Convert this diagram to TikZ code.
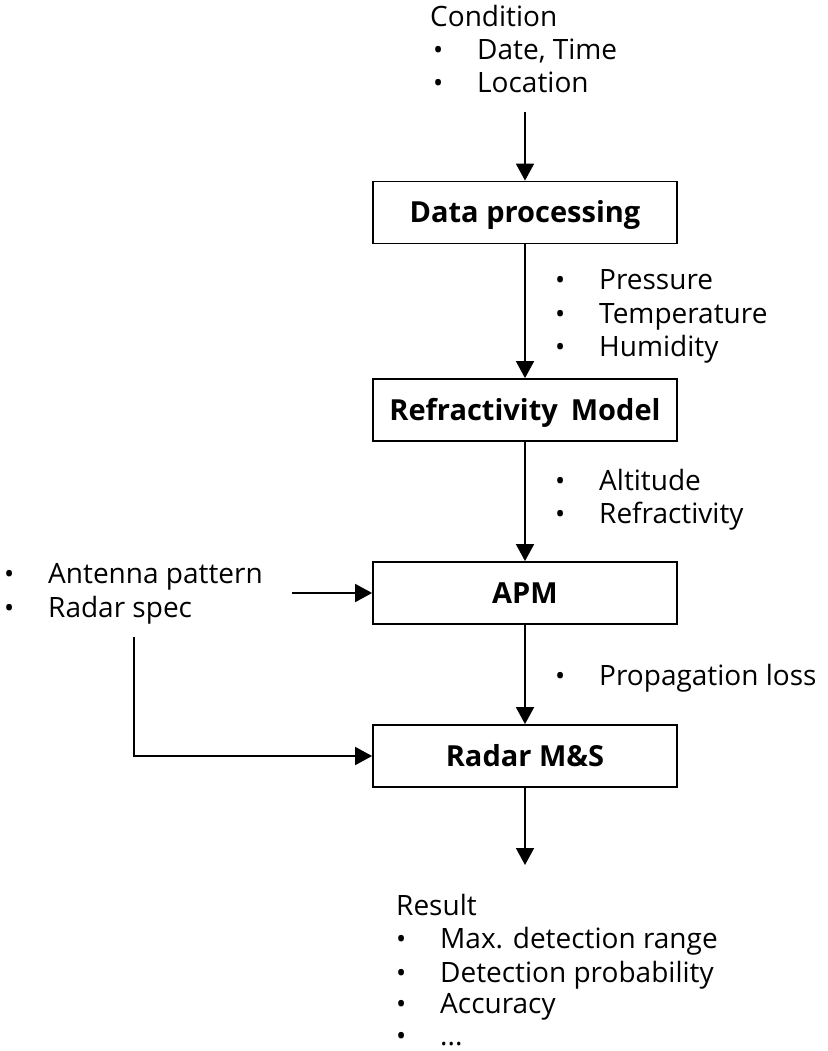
\documentclass[tikz,border=0pt]{standalone}
\usepackage{fontspec}
\setmainfont{Open Sans}
\usetikzlibrary{arrows.meta}
\newcommand\bl{\makebox[44pt][l]{\fontsize{27}{27}\selectfont •}}
\begin{document}
\begin{tikzpicture}[x=1pt,y=-1pt,
  box/.style={draw,line width=1.8pt,minimum width=304pt,minimum height=62pt,text height=20pt,text depth=0pt,inner sep=0pt,font=\bfseries\fontsize{29}{33}\selectfont},
  lbl/.style={anchor=base west,inner sep=0pt,font=\fontsize{28}{33}\selectfont},
  arr/.style={line width=1.8pt,-{Triangle[length=17pt,width=18pt]}}]
\useasboundingbox (0,0) rectangle (827,1051);
% boxes
\node[box] (dp) at (525,212.5) {Data processing};
\node[box] (rm) at (525,410) {Refractivity\hspace{0.45em}Model};
\node[box] (apm) at (525,593) {APM};
\node[box] (rms) at (525,756) {Radar M\&S};
% top input
\node[lbl] (cond) at (430,27) {Condition};
\node[lbl] (c1) at (433,60) {\bl Date, Time};
\node[lbl] (c2) at (433,93) {\bl Location};
% right lists
\node[lbl] (p1) at (555,289) {\bl Pressure};
\node[lbl] (p2) at (555,323) {\bl Temperature};
\node[lbl] (p3) at (555,356) {\bl Humidity};
\node[lbl] (a1) at (555,490) {\bl Altitude};
\node[lbl] (a2) at (555,523) {\bl Refractivity};
\node[lbl] (pl) at (555,685) {\bl Propagation loss};
% left list
\node[lbl] (ap) at (4,583) {\bl Antenna pattern};
\node[lbl] (rsp) at (4,617) {\bl Radar spec};
% result
\node[lbl] (res) at (396,915) {Result};
\node[lbl] (r1) at (396,948) {\bl Max. detection range};
\node[lbl] (r2) at (396,982) {\bl Detection probability};
\node[lbl] (r3) at (396,1013) {\bl Accuracy};
\node[lbl] (r4) at (396,1045) {\bl ...};
% connectors
\coordinate (cin) at (525,112);
\coordinate (rout) at (525,865);
\coordinate (ain) at (292,593);
\coordinate (rs) at (134,637);
\draw[arr] (cin) -- (dp.north);
\draw[arr] (dp) -- (rm);
\draw[arr] (rm) -- (apm);
\draw[arr] (apm) -- (rms);
\draw[arr] (rms) -- (rout);
\draw[arr] (ain) -- (apm.west);
\draw[arr] (rs) |- (rms.west);
\end{tikzpicture}
\end{document}
